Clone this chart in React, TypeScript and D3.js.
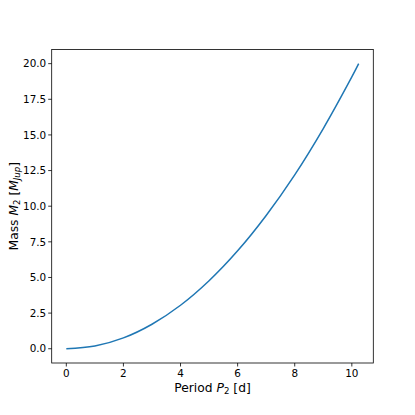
import React from "react";
import * as d3 from "d3";

const periods = [0, 1, 2, 3, 4, 5, 6, 7, 8, 9, 10, 10.24];
const masses = [0, 0.19, 0.76, 1.72, 3.05, 4.77, 6.87, 9.35, 12.2, 15.45, 19.07, 20.0];
const xTicks = [0, 2, 4, 6, 8, 10];
const yTicks = [0, 2.5, 5, 7.5, 10, 12.5, 15, 17.5, 20];

const W = 415, H = 415;
const left = 51.7, right = 373.3, top = 49.4, bottom = 363;
const font = "'DejaVu Sans', sans-serif";

export default function App() {
  const x = d3.scaleLinear().domain([-0.512, 10.752]).range([left, right]);
  const y = d3.scaleLinear().domain([-1, 21]).range([bottom, top]);
  const data = periods.map((p, i) => [p, masses[i]] as [number, number]);
  const line = d3.line<[number, number]>().x(d => x(d[0])).y(d => y(d[1])).curve(d3.curveCatmullRom.alpha(0.5));
  return (
    <svg width={W} height={H} style={{ position: "absolute", left: 0, top: 0, background: "#fff" }}>
      <rect x={0} y={0} width={W} height={H} fill="#fff" />
      <path d={line(data) || ""} fill="none" stroke="#1f77b4" strokeWidth={1.5} />
      <rect x={left} y={top} width={right - left} height={bottom - top} fill="none" stroke="#000" strokeWidth={0.8} />
      {xTicks.map(t => (
        <g key={"x" + t}>
          <line x1={x(t)} x2={x(t)} y1={bottom} y2={bottom + 3.5} stroke="#000" strokeWidth={0.8} />
          <text x={x(t)} y={bottom + 14} textAnchor="middle" fontFamily={font} fontSize={10.4} fill="#000">{t}</text>
        </g>
      ))}
      {yTicks.map(t => (
        <g key={"y" + t}>
          <line x1={left - 3.5} x2={left} y1={y(t)} y2={y(t)} stroke="#000" strokeWidth={0.8} />
          <text x={left - 5.5} y={y(t)} dy="0.36em" textAnchor="end" fontFamily={font} fontSize={10.4} fill="#000">{t.toFixed(1)}</text>
        </g>
      ))}
      <text x={(left + right) / 2} y={391.5} textAnchor="middle" fontFamily={font} fontSize={12.3} fill="#000">
        Period <tspan fontStyle="italic">P</tspan><tspan fontSize={8.6} dy={2}>2</tspan><tspan dy={-2}> [d]</tspan>
      </text>
      <text transform={`translate(17.5,${(top + bottom) / 2}) rotate(-90)`} textAnchor="middle" fontFamily={font} fontSize={12.3} fill="#000">
        Mass <tspan fontStyle="italic">M</tspan><tspan fontSize={8.6} dy={2}>2</tspan><tspan dy={-2}> [</tspan><tspan fontStyle="italic">M</tspan><tspan fontSize={8.6} fontStyle="italic" dy={2}>Jup</tspan><tspan dy={-2}>]</tspan>
      </text>
    </svg>
  );
}
